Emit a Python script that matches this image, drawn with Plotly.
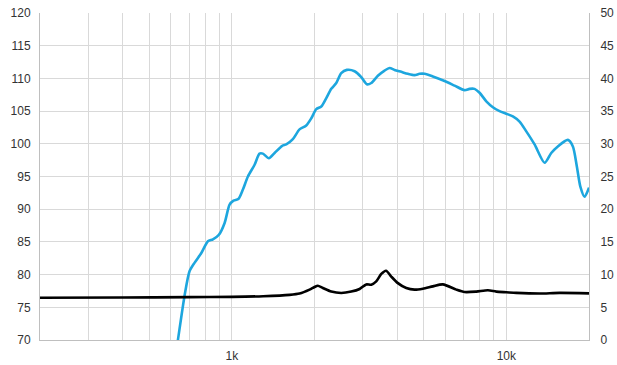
import plotly.graph_objects as go

# SPL response (left axis, dB)
spl_freq = [620, 636, 672, 701, 731, 774, 818, 853, 897, 941, 981, 1014, 1058, 1097, 1144,
            1210, 1261, 1297, 1364, 1431, 1526, 1578, 1668, 1764, 1866, 1947, 2030, 2117,
            2208, 2302, 2401, 2503, 2624, 2799, 2960, 3103, 3220, 3403, 3600, 3754, 3914,
            4141, 4377, 4630, 4828, 5035, 5397, 5955, 6477, 7042, 7343, 7659, 7988, 8450,
            8930, 9445, 9990, 10560, 11170, 11820, 12670, 13780, 14570, 15400, 16750,
            17470, 18070, 18590, 19270, 20000]
spl_db = [66.9, 70.0, 76.7, 80.5, 81.8, 83.3, 85.1, 85.4, 86.1, 87.9, 90.7, 91.3, 91.6, 93.0, 95.0,
          96.8, 98.5, 98.5, 97.8, 98.6, 99.7, 99.9, 100.7, 102.2, 102.8, 103.9, 105.3, 105.7,
          107.0, 108.4, 109.3, 110.8, 111.3, 111.1, 110.2, 109.1, 109.3, 110.4, 111.2, 111.6, 111.3,
          111.0, 110.7, 110.5, 110.7, 110.7, 110.3, 109.6, 108.9, 108.2, 108.4, 108.4, 107.8, 106.5,
          105.6, 105.0, 104.6, 104.2, 103.4, 101.9, 99.9, 97.1, 98.6, 99.6, 100.6,
          99.6, 96.5, 93.5, 91.9, 93.3]

# Impedance (right axis, ohm)
imp_freq = [200, 400, 700, 1000, 1300, 1623, 1764, 1919, 2000, 2057, 2145, 2302, 2503, 2723,
            2920, 3087, 3220, 3357, 3502, 3645, 3808, 4025, 4319, 4630, 4964, 5397, 5871,
            6571, 7042, 7769, 8562, 9189, 10000, 10870, 13210, 15620, 20000]
imp_ohm = [6.45, 6.5, 6.55, 6.6, 6.7, 6.9, 7.1, 7.7, 8.1, 8.3, 7.95, 7.4, 7.19, 7.4,
           7.8, 8.5, 8.46, 8.96, 10.1, 10.6, 9.7, 8.7, 7.95, 7.7, 7.85, 8.2, 8.5,
           7.7, 7.34, 7.4, 7.6, 7.4, 7.3, 7.2, 7.1, 7.2, 7.13]

grid_vals = [300, 400, 500, 600, 700, 800, 900, 1000, 2000, 3000, 4000, 5000, 6000,
             7000, 8000, 9000, 10000]
grid_text = ['' if v not in (1000, 10000) else ('1k' if v == 1000 else '10k') for v in grid_vals]

fig = go.Figure()
fig.add_trace(go.Scatter(x=spl_freq, y=spl_db, mode='lines',
                         line=dict(color='#1DA6DE', width=2.6, shape='spline', smoothing=0.7),
                         yaxis='y', showlegend=False))
fig.add_trace(go.Scatter(x=imp_freq, y=imp_ohm, mode='lines',
                         line=dict(color='#000000', width=2.6, shape='spline', smoothing=0.7),
                         yaxis='y2', showlegend=False))

fig.update_layout(
    width=617, height=365,
    margin=dict(l=40, r=28, t=13, b=25, autoexpand=False),
    paper_bgcolor='white', plot_bgcolor='white',
    font=dict(family='Liberation Sans, Arial, sans-serif', size=12, color='#333333'),
    xaxis=dict(type='log', range=[2.30103, 4.30103], automargin=False,
               tickmode='array', tickvals=grid_vals, ticktext=grid_text,
               showgrid=True, gridcolor='#D9D9D9', gridwidth=1,
               showline=True, linecolor='#BFBFBF', linewidth=1,
               ticks='outside', ticklen=5, tickcolor='white', zeroline=False),
    yaxis=dict(range=[70, 120], dtick=5, tick0=70, automargin=False,
               showgrid=True, gridcolor='#D9D9D9', gridwidth=1,
               showline=True, linecolor='#BFBFBF', linewidth=1,
               ticks='outside', ticklen=6, tickcolor='white', zeroline=False),
    yaxis2=dict(range=[0, 50], dtick=5, tick0=0, overlaying='y', side='right', automargin=False,
                showgrid=False, showline=True, linecolor='#BFBFBF', linewidth=1,
                ticks='outside', ticklen=8, tickcolor='white', zeroline=False),
)

fig.write_html("out.html")
